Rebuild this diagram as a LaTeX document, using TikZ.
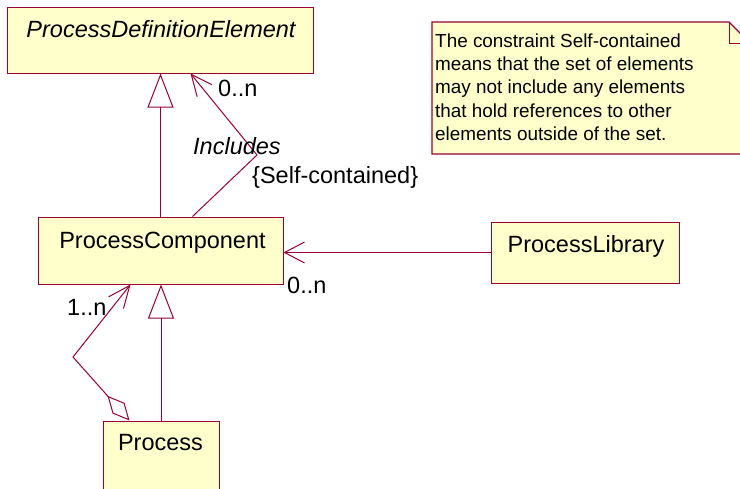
\documentclass[tikz,border=0pt]{standalone}
\usepackage{fontspec}
\setmainfont{Liberation Sans}
\usetikzlibrary{arrows.meta,calc}
\definecolor{umlfill}{RGB}{255,255,204}
\definecolor{umledge}{RGB}{153,0,51}
\begin{document}
\begin{tikzpicture}[x=1pt,y=-1pt,
  classbox/.style={draw=umledge, fill=umlfill, line width=1pt, rectangle, inner sep=0pt},
  cname/.style={font=\fontsize{23.5}{28}\selectfont, inner sep=0pt, anchor=base},
  cnameit/.style={font=\fontsize{23.5}{28}\selectfont\itshape, inner sep=0pt, anchor=base},
  lbl/.style={font=\fontsize{23.5}{28}\selectfont, inner sep=0pt, anchor=base west},
  lblit/.style={font=\fontsize{23.5}{28}\selectfont\itshape, inner sep=0pt, anchor=base west},
  link/.style={draw=umledge, line width=1pt},
  gen/.style={link, -{Triangle[open, length=34pt, width=26pt]}},
  nav/.style={link, -{Straight Barb[length=21pt, width=19pt]}},
  navwide/.style={link, -{Straight Barb[length=20pt, width=21pt]}},
  agg/.style={link, {Diamond[open, length=33pt, width=16pt]}-{Straight Barb[length=22pt, width=19pt]}},
]
\useasboundingbox (0,0) rectangle (740,488);
\clip (0,0) rectangle (740,488);

% classes
\node[classbox, minimum width=306pt, minimum height=66pt] (pde) at (160,40) {};
\node[cnameit] (pdeT) at (161,37) {ProcessDefinitionElement};

\node[classbox, minimum width=245pt, minimum height=67pt] (pc) at (160.5,250.5) {};
\node[cname] (pcT) at (162.5,248) {ProcessComponent};

\node[classbox, minimum width=188pt, minimum height=61pt] (pl) at (585,252.5) {};
\node[cname] (plT) at (586,252) {ProcessLibrary};

\node[classbox, minimum width=116pt, minimum height=100pt] (proc) at (161,471) {};
\node[cname] (procT) at (160.5,450) {Process};

% note with folded corner
\path[draw=umledge, fill=umlfill, line width=1.2pt] (432,22) -- (729,22) -- (750,43) -- (750,154) -- (432,154) -- cycle;
\draw[umledge, line width=1pt] (729,22) -- (729,43) -- (750,43);
\node[anchor=north west, inner sep=0pt, align=left, font=\fontsize{18.9}{23.3}\selectfont] (noteT) at (435,33.5)
  {The constraint Self-contained\\means that the set of elements\\may not include any elements\\that hold references to other\\elements outside of the set.};

% generalizations
\draw[gen] (pc.north) -- (pc.north |- pde.south);
\draw[gen] (proc.north) -- (proc.north |- pc.south);

% Includes association
\coordinate (incBend) at (257,155);
\draw[nav] ($(pc.north west)+(155,0)$) -- (incBend) -- ($(pde.south west)+(184,0)$);

% library association
\draw[navwide] (pl.west) -- (pl.west -| pc.east);

% aggregation
\coordinate (aggBend) at (73,357);
\draw[agg] ($(proc.north west)+(27,0)$) -- (aggBend) -- ($(pc.south west)+(93,0)$);

% labels
\node[lbl] (mTop) at (218,96.7) {0..n};
\node[lblit] (incL) at (193,154) {Includes};
\node[lbl] (scL) at (252,183) {\{Self-contained\}};
\node[lbl] (mRight) at (287,293) {0..n};
\node[lbl] (mLeft) at (67,315) {1..n};
\end{tikzpicture}
\end{document}
